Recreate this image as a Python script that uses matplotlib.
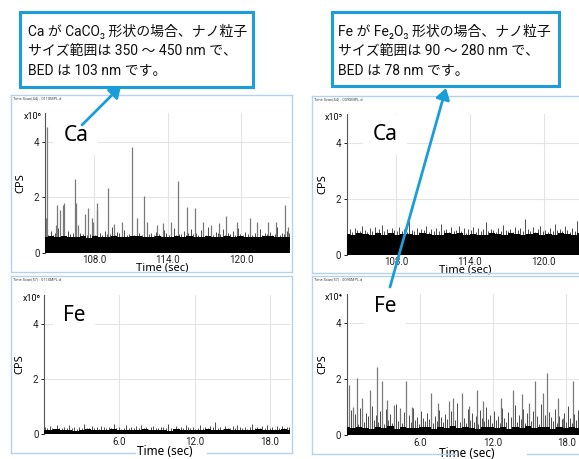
import numpy as np
import matplotlib
matplotlib.use('Agg')
import matplotlib.pyplot as plt
from matplotlib.patches import Rectangle, FancyArrowPatch
from matplotlib.lines import Line2D
from matplotlib.ticker import FormatStrFormatter

# ---- data (CPS in units of the axis multiplier) ----

# Ca, sample 011 (x10^6), time 104-124 s
ca011_band = [0.58, 0.60, 0.56, 0.61, 0.57, 0.59, 0.62, 0.55, 0.60, 0.58,
              0.57, 0.61, 0.59, 0.56, 0.60, 0.62, 0.58, 0.57, 0.60, 0.59,
              0.56, 0.61, 0.58, 0.60, 0.57, 0.59, 0.62, 0.56, 0.58, 0.60,
              0.57, 0.61, 0.59, 0.58, 0.56, 0.60, 0.62, 0.57, 0.59, 0.58]
ca011_fringe = [0.70, 0.66, 0.78, 0.64, 0.72, 0.90, 0.68, 0.74, 0.62, 0.80,
                0.67, 0.71, 0.96, 0.65, 0.73, 0.69, 0.84, 0.63, 0.70, 0.76,
                0.66, 0.88, 0.72, 0.64, 0.79, 0.68, 0.70, 0.93, 0.65, 0.74,
                0.71, 0.67, 0.82, 0.63, 0.69, 0.75, 0.66, 0.86, 0.72, 0.64,
                0.70, 0.98, 0.68, 0.73, 0.65, 0.77, 0.69, 0.62, 0.83, 0.71,
                0.66, 0.74, 0.90, 0.64, 0.70, 0.68, 0.79, 0.65, 0.72, 0.87,
                0.67, 0.73, 0.64, 0.81, 0.70, 0.66, 0.94, 0.69, 0.63, 0.76,
                0.71, 0.68, 0.85, 0.65, 0.72, 0.67, 0.78, 0.64, 0.91, 0.70,
                0.66, 0.74, 0.69, 0.82, 0.63, 0.71, 0.67, 0.88, 0.65, 0.73,
                0.70, 0.77, 0.64, 0.69, 0.95, 0.66, 0.72, 0.68, 0.80, 0.71]
ca011_spike_t = [104.19, 104.05, 105.00, 105.22, 105.44, 105.57, 104.89, 106.44,
                 106.49, 106.71, 107.25, 107.47, 107.79, 107.93, 108.25, 108.20,
                 109.09, 111.10, 111.50, 112.05, 112.27, 114.84, 115.57, 116.25,
                 114.30, 118.77, 119.64, 120.72, 122.16, 122.83, 123.57, 123.78,
                 109.60, 110.30, 113.10, 113.60, 116.90, 117.50, 118.20, 121.30]
ca011_spike_h = [4.51, 1.25, 1.73, 1.55, 1.73, 1.80, 1.00, 2.65,
                 1.80, 1.00, 1.40, 1.63, 1.25, 1.10, 1.80, 1.55,
                 2.35, 3.80, 1.25, 2.03, 1.13, 2.57, 1.65, 1.63,
                 1.13, 1.34, 1.13, 1.25, 1.13, 1.13, 1.73, 0.95,
                 1.05, 1.10, 1.00, 1.08, 1.12, 1.02, 1.06, 1.10]

# Ca, sample 009 (x10^5)
ca009_band = [0.75, 0.72, 0.78, 0.74, 0.70, 0.77, 0.73, 0.79, 0.71, 0.76,
              0.74, 0.72, 0.78, 0.75, 0.73, 0.70, 0.77, 0.74, 0.79, 0.72,
              0.76, 0.73, 0.71, 0.78, 0.75, 0.72, 0.77, 0.74, 0.70, 0.76,
              0.79, 0.73, 0.75, 0.71, 0.78, 0.74, 0.72, 0.77, 0.75, 0.73]
ca009_fringe = [0.86, 0.92, 0.81, 0.97, 0.88, 0.84, 1.02, 0.90, 0.83, 0.95,
                0.87, 0.99, 0.82, 0.91, 1.08, 0.85, 0.93, 0.80, 0.96, 0.89,
                0.84, 1.00, 0.87, 0.92, 0.82, 1.22, 0.90, 0.86, 0.98, 0.83,
                0.94, 0.88, 1.05, 0.81, 0.91, 0.87, 0.97, 0.84, 1.12, 0.89,
                0.93, 0.82, 0.99, 0.86, 0.90, 1.03, 0.85, 0.95, 0.80, 0.92,
                0.88, 1.01, 0.83, 0.96, 0.87, 0.91, 1.16, 0.84, 0.94, 0.89,
                0.82, 0.98, 0.86, 1.06, 0.90, 0.85, 0.93, 0.81, 1.00, 0.88,
                0.95, 0.84, 1.27, 0.91, 0.86, 0.99, 0.83, 0.92, 1.04, 0.87,
                0.90, 0.82, 0.97, 0.85, 1.10, 0.89, 0.93, 0.84, 1.02, 0.88,
                0.81, 0.96, 0.86, 1.20, 0.91, 0.84, 0.98, 0.87, 1.07, 0.90]

# Fe, sample 011 (x10^6), time 0-20 s
fe011_band = [0.15, 0.13, 0.17, 0.14, 0.16, 0.12, 0.15, 0.18, 0.14, 0.16,
              0.13, 0.17, 0.15, 0.14, 0.16, 0.13, 0.18, 0.15, 0.14, 0.16,
              0.12, 0.17, 0.15, 0.13, 0.16, 0.14, 0.18, 0.15, 0.13, 0.17,
              0.14, 0.16, 0.15, 0.13, 0.17, 0.14, 0.16, 0.15, 0.18, 0.14]
fe011_fringe = [0.24, 0.20, 0.28, 0.22, 0.19, 0.31, 0.23, 0.21, 0.26, 0.20,
                0.33, 0.22, 0.25, 0.19, 0.27, 0.21, 0.36, 0.23, 0.20, 0.29,
                0.22, 0.25, 0.19, 0.30, 0.24, 0.21, 0.27, 0.20, 0.38, 0.23,
                0.26, 0.19, 0.22, 0.32, 0.21, 0.25, 0.20, 0.28, 0.23, 0.34,
                0.21, 0.26, 0.19, 0.24, 0.30, 0.22, 0.20, 0.27, 0.25, 0.21,
                0.35, 0.23, 0.19, 0.28, 0.22, 0.26, 0.20, 0.31, 0.24, 0.21,
                0.27, 0.19, 0.23, 0.33, 0.22, 0.25, 0.20, 0.29, 0.24, 0.45,
                0.21, 0.26, 0.19, 0.30, 0.23, 0.22, 0.28, 0.20, 0.34, 0.25,
                0.21, 0.27, 0.19, 0.24, 0.37, 0.22, 0.26, 0.20, 0.29, 0.23,
                0.32, 0.21, 0.25, 0.19, 0.28, 0.22, 0.30, 0.20, 0.26, 0.24]

# Fe, sample 009 (x10^4)
fe009_band = [0.27, 0.24, 0.30, 0.26, 0.22, 0.29, 0.25, 0.31, 0.23, 0.28,
              0.26, 0.24, 0.30, 0.27, 0.22, 0.29, 0.25, 0.32, 0.24, 0.28,
              0.26, 0.23, 0.30, 0.27, 0.25, 0.29, 0.22, 0.28, 0.26, 0.31,
              0.24, 0.27, 0.29, 0.23, 0.30, 0.26, 0.28, 0.25, 0.31, 0.27]
fe009_fringe = [0.62, 0.45, 0.88, 0.52, 0.74, 0.40, 0.95, 0.58, 0.48, 0.80,
                0.66, 0.42, 1.02, 0.55, 0.70, 0.47, 0.85, 0.60, 0.38, 0.92,
                0.53, 0.76, 0.44, 0.68, 1.10, 0.50, 0.63, 0.41, 0.82, 0.57,
                0.72, 0.46, 0.98, 0.54, 0.65, 0.39, 0.87, 0.61, 0.49, 0.78,
                0.56, 1.05, 0.43, 0.69, 0.51, 0.90, 0.64, 0.45, 0.75, 0.58,
                0.40, 0.84, 0.67, 0.52, 1.15, 0.47, 0.71, 0.60, 0.43, 0.93,
                0.55, 0.79, 0.48, 0.66, 0.38, 0.89, 0.62, 0.50, 1.00, 0.57,
                0.73, 0.44, 0.86, 0.53, 0.68, 0.41, 0.96, 0.59, 0.47, 0.81,
                0.64, 0.52, 1.08, 0.45, 0.70, 0.56, 0.91, 0.42, 0.77, 0.61,
                0.49, 0.85, 0.58, 0.66, 0.40, 1.12, 0.54, 0.72, 0.46, 0.83,
                0.63, 0.51, 0.94, 0.44, 0.69, 0.57, 0.80, 0.48, 1.03, 0.60,
                0.43, 0.76, 0.55, 0.88, 0.47, 0.67, 0.99, 0.52, 0.74, 0.58]
fe009_spike_t = [0.21, 0.88, 2.45, 2.93, 1.95, 1.28, 0.53, 3.33, 3.87, 4.85,
                 4.40, 5.33, 6.88, 7.47, 8.72, 9.44, 10.67, 10.00, 11.20, 12.67,
                 13.60, 14.40, 14.93, 15.47, 16.13, 16.45, 17.33, 17.73, 18.53, 8.40]
fe009_spike_h = [1.80, 2.03, 2.43, 1.92, 1.62, 1.32, 1.00, 1.26, 1.08, 1.92,
                 0.96, 1.00, 1.50, 1.14, 1.32, 1.50, 1.62, 1.04, 1.20, 1.32,
                 1.62, 1.47, 1.14, 1.92, 1.50, 2.22, 1.32, 0.60, 1.92, 1.20]

callout_left = ['Ca が CaCO₃ 形状の場合、ナノ粒子',
                'サイズ範囲は 350 〜 450 nm で、',
                'BED は 103 nm です。']
callout_right = ['Fe が Fe₂O₃ 形状の場合、ナノ粒子',
                 'サイズ範囲は 90 〜 280 nm で、',
                 'BED は 78 nm です。']

# ---- layout helpers (pixel positions measured from the top-left) ----
W, H = 579, 459
BLUE = '#1B9DD9'
FRAME = '#B3D2EC'
TICKFONT = ['Roboto', 'DejaVu Sans']
JPFONT = ['Roboto', 'Noto Sans CJK JP', 'DejaVu Sans']


def rect(x0, y0, x1, y1):
    return [x0 / W, 1 - y1 / H, (x1 - x0) / W, (y1 - y0) / H]


def pt(x, y):
    return (x / W, 1 - y / H)


def frame_line(xs, ys):
    fig.add_artist(Line2D([x / W for x in xs], [1 - y / H for y in ys],
                          transform=fig.transFigure, color=FRAME, lw=1.0))


fig = plt.figure(figsize=(W / 100, H / 100), dpi=100)

panels = [
    dict(box=(45, 112.7, 290, 253), xlim=(104, 123.95), ticks=[108, 114, 120],
         band=ca011_band, fringe=ca011_fringe, st=ca011_spike_t, sh=ca011_spike_h,
         exp='x10⁶', el='Ca', el_xy=(0.075, 0.84), frame=(10.5, 95, 291.5, 271.5),
         gap=None, title='Time Scan(44) : 011SMPL.d', bottom=False),
    dict(box=(346.7, 113.6, 592.7, 255), xlim=(104, 124), ticks=[108, 114, 120],
         band=ca009_band, fringe=ca009_fringe, st=[], sh=[],
         exp='x10⁵', el='Ca', el_xy=(0.105, 0.85), frame=(311.5, 96, 600, 272.5),
         gap=None, title='Time Scan(44) : 009SMPL.d', bottom=False),
    dict(box=(44, 295, 290, 434), xlim=(0, 19.6), ticks=[6, 12, 18],
         band=fe011_band, fringe=fe011_fringe, st=[], sh=[],
         exp='x10⁶', el='Fe', el_xy=(0.077, 0.85), frame=(10.5, 276, 291.5, 452.5),
         gap=(135, 207), title='Time Scan(57) : 011SMPL.d', bottom=True),
    dict(box=(346.7, 293.6, 590.7, 435), xlim=(0, 20), ticks=[6, 12, 18],
         band=fe009_band, fringe=fe009_fringe, st=fe009_spike_t, sh=fe009_spike_h,
         exp='x10⁴', el='Fe', el_xy=(0.11, 0.91), frame=(311.5, 276, 600, 454),
         gap=(455, 527), title='Time Scan(57) : 009SMPL.d', bottom=True),
]

for p in panels:
    fx0, fy0, fx1, fy1 = p['frame']
    frame_line([fx0, fx1], [fy0, fy0])
    frame_line([fx0, fx0], [fy0, fy1])
    frame_line([fx1, fx1], [fy0, fy1])
    if p['gap']:
        frame_line([fx0, p['gap'][0]], [fy1, fy1])
        frame_line([p['gap'][1], fx1], [fy1, fy1])
    else:
        frame_line([fx0, fx1], [fy1, fy1])
    fig.text((fx0 + 2.5) / W, 1 - (fy0 + 3.5) / H, p['title'],
             fontsize=2.8, color='#444444', va='center', family=TICKFONT)

    ax = fig.add_axes(rect(*p['box']))
    x0, x1 = p['xlim']
    ax.set_xlim(x0, x1)
    ax.set_ylim(0, 5.04)

    tb = np.linspace(x0, x1, len(p['band']))
    ax.fill_between(tb, 0, p['band'], step='mid', color='black', lw=0, zorder=3)
    tf = np.linspace(x0 + 0.05, x1 - 0.05, len(p['fringe']))
    ax.vlines(tf, 0, p['fringe'], colors='#4a4a4a', lw=0.7, zorder=2)
    if p['st']:
        ax.vlines(p['st'], 0, p['sh'], colors='#7a7a7a', lw=0.9, zorder=2)

    ax.set_xticks(p['ticks'])
    ax.xaxis.set_major_formatter(FormatStrFormatter('%.1f'))
    ax.set_yticks([0, 2, 4])
    ax.grid(color='#E4E4E4', lw=0.8, zorder=0)
    ax.set_axisbelow(True)
    for s in ['top', 'right', 'bottom']:
        ax.spines[s].set_visible(False)
    ax.spines['left'].set_color('#555555')
    ax.spines['left'].set_linewidth(0.8)
    ax.tick_params(axis='x', length=0, pad=2.0 if p['bottom'] else 1.2,
                   labelsize=7, colors='#222222')
    ax.tick_params(axis='y', length=2.5, width=0.7, pad=1.5, labelsize=7,
                   colors='#222222')
    for lab in ax.get_xticklabels() + ax.get_yticklabels():
        lab.set_family(TICKFONT)

    ax.set_ylabel('CPS', fontsize=8, family='Noto Sans')
    ax.yaxis.set_label_coords(-0.075, 0.5)
    if p['bottom']:
        ax.set_xlabel('Time (sec)', fontsize=8.5, family='Noto Sans', va='center')
        ax.xaxis.set_label_coords(0.49, -0.129)
    else:
        ax.set_xlabel('Time (sec)', fontsize=8, family='Noto Sans', va='center')
        ax.xaxis.set_label_coords(0.48, -0.104)

    ax.text(-0.015, 0.975, p['exp'], transform=ax.transAxes, ha='right',
            va='center', fontsize=6.5, family=TICKFONT)
    ax.text(p['el_xy'][0], p['el_xy'][1], p['el'], transform=ax.transAxes,
            fontsize=15, family='Noto Sans', va='center', ha='left', zorder=5,
            bbox=dict(fc='white', ec='none', pad=7))

# ---- callouts and arrows ----
for (bx0, by0, bx1, by1), lines, tx in [((20, 11.7, 253.3, 87.3), callout_left, 27.5),
                                         ((331.7, 11.7, 559.3, 86), callout_right, 338)]:
    fig.add_artist(Rectangle(pt(bx0, by1), (bx1 - bx0) / W, (by1 - by0) / H,
                             transform=fig.transFigure, fc='white', ec=BLUE,
                             lw=2.2, zorder=6))
    for i, line in enumerate(lines):
        fig.text(tx / W, 1 - (31 + 20 * i) / H, line, fontsize=10,
                 family=JPFONT, va='center', ha='left', zorder=7, color='#111111')

for a, b in [((82, 125), (121, 86)), ((390, 287), (446, 88))]:
    fig.add_artist(FancyArrowPatch(pt(*a), pt(*b), transform=fig.transFigure,
                                   arrowstyle='-|>,head_length=0.55,head_width=0.35',
                                   mutation_scale=12, color=BLUE, lw=2.0,
                                   shrinkA=0, shrinkB=0, zorder=8))

fig.savefig('out.png', dpi=100)
